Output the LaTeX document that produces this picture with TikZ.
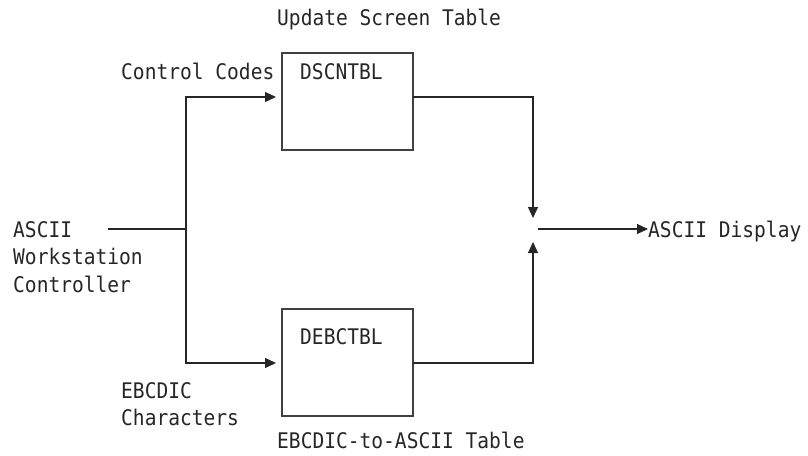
\documentclass[tikz,border=0pt]{standalone}
\usepackage{fontspec}
\newfontfamily\diagmono[FakeStretch=0.91]{DejaVu Sans Mono}
\usetikzlibrary{arrows.meta}
\begin{document}
\begin{tikzpicture}[x=1pt,y=-1pt,
  txt/.style={anchor=base west,inner sep=0pt,font=\diagmono\fontsize{21.5}{26}\selectfont,text=black!85},
  tbox/.style={draw=black!75,line width=1.1pt,minimum width=131pt,minimum height=97pt,inner sep=0pt},
  conn/.style={draw=black!85,line width=1.1pt},
  arr/.style={conn,-{Triangle[length=11pt,width=10pt]}}]
\useasboundingbox (0,0) rectangle (808,455);
% boxes
\node[tbox] (dsc) at (347.5,101.5) {};
\node[tbox,minimum height=107pt] (deb) at (347.5,362.5) {};
% texts
\node[txt] (upd) at (277,25) {Update Screen Table};
\node[txt] (dsct) at (300,79) {DSCNTBL};
\node[txt] (ctl) at (121,79) {Control Codes};
\node[txt] (asc) at (13,237) {ASCII};
\node[txt] (wks) at (13,264) {Workstation};
\node[txt] (ctr) at (13,292) {Controller};
\node[txt] (debt) at (300,344) {DEBCTBL};
\node[txt] (ebc) at (121,398) {EBCDIC};
\node[txt] (chr) at (121,425) {Characters};
\node[txt] (e2a) at (277,448) {EBCDIC-to-ASCII Table};
\node[txt] (disp) at (648,237) {ASCII Display};
% coordinates
\coordinate (in) at (108,229);
\coordinate (j) at (186,229);
\coordinate (dscin) at (276,97);
\coordinate (debin) at (276,363);
\coordinate (dscout) at (413,97);
\coordinate (debout) at (413,363);
\coordinate (mtop) at (533,218);
\coordinate (mbot) at (533,242);
\coordinate (outs) at (538,229);
\coordinate (oute) at (648,229);
% connectors
\draw[conn] (in) -- (j);
\draw[arr] (j) |- (dscin);
\draw[arr] (j) |- (debin);
\draw[arr] (dscout) -| (mtop);
\draw[arr] (debout) -| (mbot);
\draw[arr] (outs) -- (oute);
\end{tikzpicture}
\end{document}
